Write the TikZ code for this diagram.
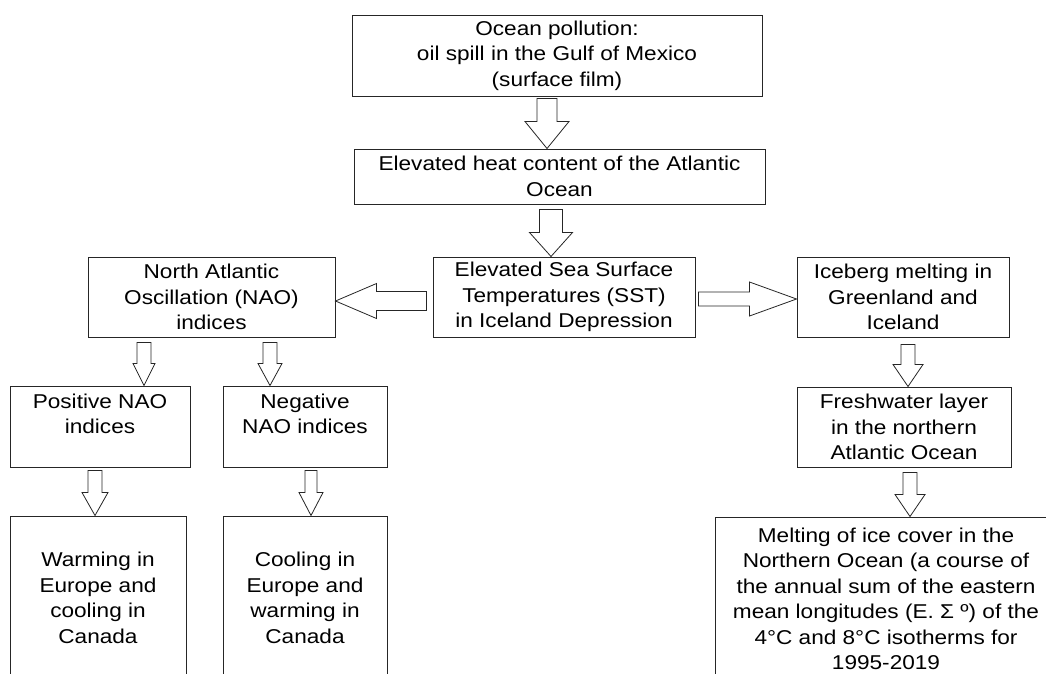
\documentclass[tikz,border=0pt]{standalone}
\usepackage{fontspec}
\setmainfont{Liberation Sans}[FakeStretch=1.13]
\usetikzlibrary{calc}

\tikzset{
  box/.style={draw=black!85,line width=1pt,align=center,inner sep=0pt,
    font=\fontsize{20}{25.5}\selectfont},
  blockarrow/.style={draw=black!85,line width=.8pt,fill=white,line join=miter},
}

% Hollow block arrows: position, from, to, shaft half-width, head half-width, head length.
\newcommand{\fatdown}[6]{%
  \draw[blockarrow] let \p0=(#1,0), \p1=(#2), \p2=(#3) in
    (\x0-#4pt,\y1) -- (\x0+#4pt,\y1) -- (\x0+#4pt,\y2+#6pt) -- (\x0+#5pt,\y2+#6pt)
    -- (\x0,\y2) -- (\x0-#5pt,\y2+#6pt) -- (\x0-#4pt,\y2+#6pt) -- cycle;}
\newcommand{\fatleft}[6]{%
  \draw[blockarrow] let \p0=(0,#1), \p1=(#2), \p2=(#3) in
    (\x1,\y0-#4pt) -- (\x1,\y0+#4pt) -- (\x2+#6pt,\y0+#4pt) -- (\x2+#6pt,\y0+#5pt)
    -- (\x2,\y0) -- (\x2+#6pt,\y0-#5pt) -- (\x2+#6pt,\y0-#4pt) -- cycle;}
\newcommand{\fatright}[6]{%
  \draw[blockarrow] let \p0=(0,#1), \p1=(#2), \p2=(#3) in
    (\x1,\y0-#4pt) -- (\x1,\y0+#4pt) -- (\x2-#6pt,\y0+#4pt) -- (\x2-#6pt,\y0+#5pt)
    -- (\x2,\y0) -- (\x2-#6pt,\y0-#5pt) -- (\x2-#6pt,\y0-#4pt) -- cycle;}

\begin{document}
\begin{tikzpicture}[x=1pt,y=-1pt]
  \useasboundingbox (0,0) rectangle (1046,673);
  \clip (0,0) rectangle (1046,673);

  % Upper chain.
  \node[box,minimum width=410pt,minimum height=81pt] (spill) at (557,55.5)
    {Ocean pollution:\\oil spill in the Gulf of Mexico\\(surface film)};
  \node[box,minimum width=411pt,minimum height=55pt] (heat) at (559.5,176.5)
    {Elevated heat content of the Atlantic\\Ocean};
  \node[box,minimum width=262pt,minimum height=80pt] (sst) at (564,297)
    {Elevated Sea Surface\\Temperatures (SST)\\in Iceland Depression};

  % Left branch.
  \node[box,minimum width=247pt,minimum height=80pt] (nao) at (211.5,297)
    {North Atlantic\\Oscillation (NAO)\\indices};
  \node[box,minimum width=180pt,minimum height=81pt] (posnao) at (100,426.5)
    {Positive NAO\\indices\\\mbox{}};
  \node[box,minimum width=164pt,minimum height=81pt] (negnao) at (305,426.5)
    {Negative\\NAO indices\\\mbox{}};
  \node[box,minimum width=176pt,minimum height=164pt] (warming) at (98,598)
    {Warming in\\Europe and\\cooling in\\Canada};
  \node[box,minimum width=164pt,minimum height=164pt] (cooling) at (305,598)
    {Cooling in\\Europe and\\warming in\\Canada};

  % Right branch.
  \node[box,minimum width=212pt,minimum height=80pt] (iceberg) at (903,297)
    {Iceberg melting in\\Greenland and\\Iceland};
  \node[box,minimum width=214pt,minimum height=80pt] (fresh) at (904,427)
    {Freshwater layer\\in the northern\\Atlantic Ocean};
  \node[box,minimum width=342pt,minimum height=164pt] (icecover) at (886,599)
    {Melting of ice cover in the\\Northern Ocean (a course of\\the annual sum of the eastern\\mean longitudes (E. Σ º) of the\\4°C and 8°C isotherms for\\1995-2019};

  % Block arrows.
  \fatdown{547}{[yshift=-2pt]spill.south}{heat.north}{10}{22}{27}
  \fatdown{551}{[yshift=-5pt]heat.south}{sst.north}{11.5}{21.5}{24}
  \fatleft{301}{[xshift=-6pt]sst.west}{nao.east}{9.5}{17.5}{41}
  \fatright{299}{[xshift=3pt]sst.east}{iceberg.west}{7}{17}{47}
  \fatdown{144}{[yshift=-5pt]nao.south}{posnao.north}{7}{11}{22}
  \fatdown{270}{[yshift=-5pt]nao.south}{negnao.north}{7}{12}{22}
  \fatdown{95}{[yshift=-3pt]posnao.south}{warming.north}{7}{13}{23}
  \fatdown{311}{[yshift=-3pt]negnao.south}{cooling.north}{6}{12}{23}
  \fatdown{908}{[yshift=-7pt]iceberg.south}{fresh.north}{7}{15}{22}
  \fatdown{910}{[yshift=-5pt]fresh.south}{icecover.north}{7}{15}{22}
\end{tikzpicture}
\end{document}
